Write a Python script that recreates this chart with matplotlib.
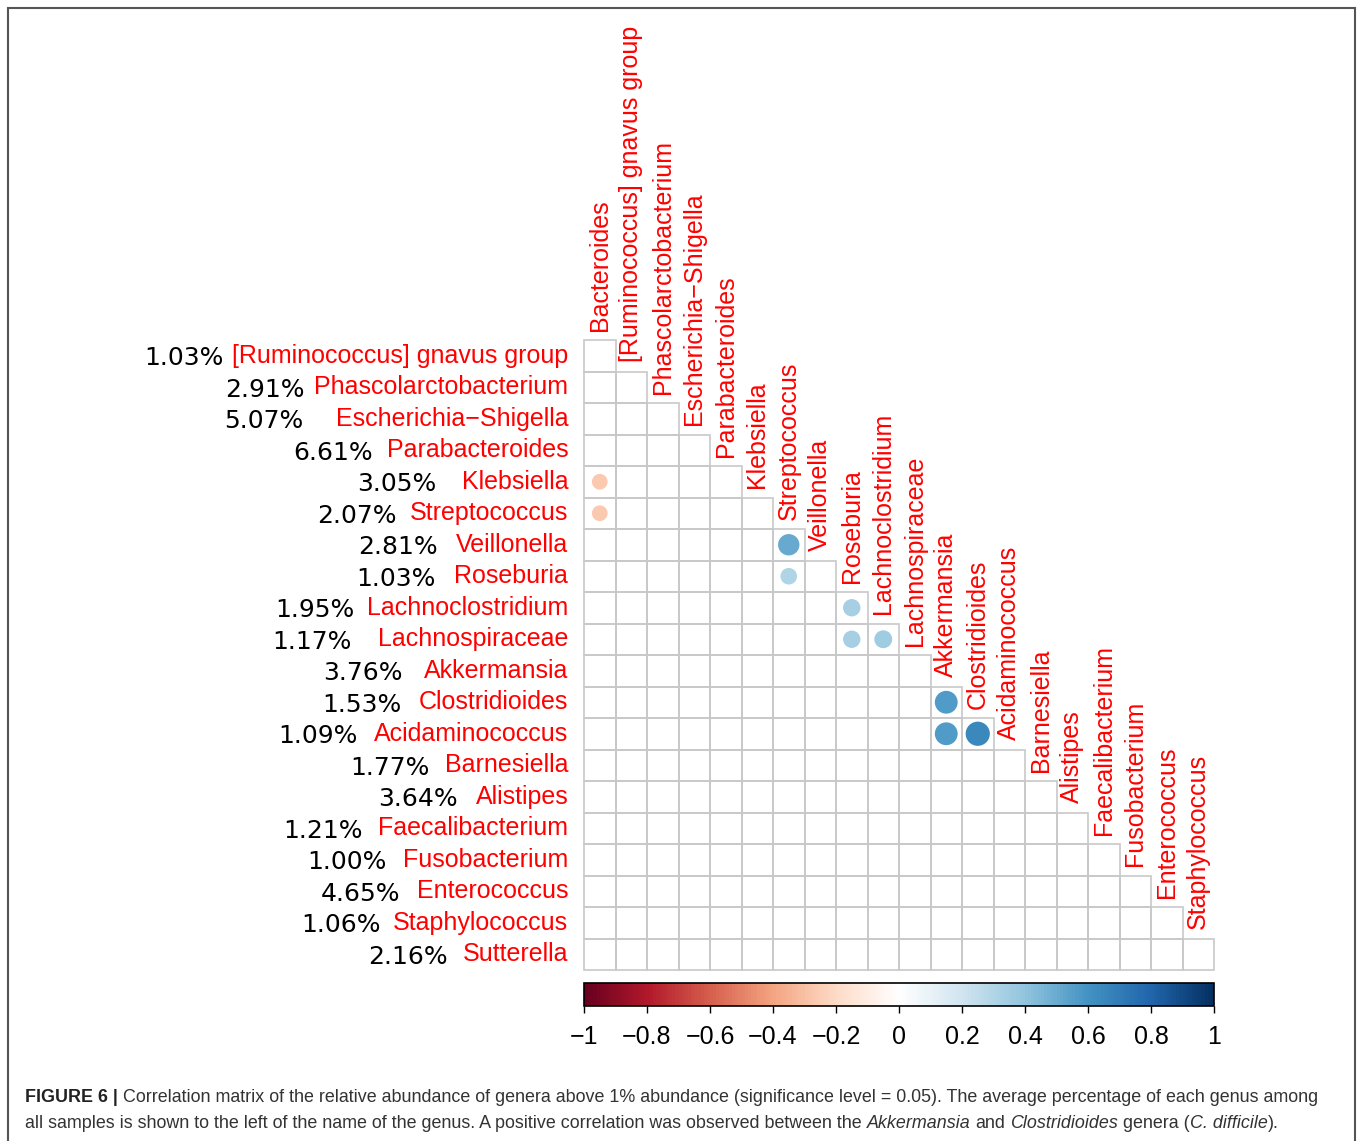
import numpy as np
import matplotlib
matplotlib.use("Agg")
import matplotlib.pyplot as plt
from matplotlib.patches import Rectangle, Circle
from matplotlib.colors import LinearSegmentedColormap, Normalize
from matplotlib.cm import ScalarMappable

plt.rcParams['font.family'] = ['Liberation Sans', 'DejaVu Sans']

# ---------------- data ----------------
col_names = ["Bacteroides", "[Ruminococcus] gnavus group", "Phascolarctobacterium",
             "Escherichia\u2212Shigella", "Parabacteroides", "Klebsiella", "Streptococcus",
             "Veillonella", "Roseburia", "Lachnoclostridium", "Lachnospiraceae",
             "Akkermansia", "Clostridioides", "Acidaminococcus", "Barnesiella",
             "Alistipes", "Faecalibacterium", "Fusobacterium", "Enterococcus",
             "Staphylococcus"]
row_names = ["[Ruminococcus] gnavus group", "Phascolarctobacterium", "Escherichia\u2212Shigella",
             "Parabacteroides", "Klebsiella", "Streptococcus", "Veillonella", "Roseburia",
             "Lachnoclostridium", "Lachnospiraceae", "Akkermansia", "Clostridioides",
             "Acidaminococcus", "Barnesiella", "Alistipes", "Faecalibacterium",
             "Fusobacterium", "Enterococcus", "Staphylococcus", "Sutterella"]
row_pct = ["1.03%", "2.91%", "5.07%", "6.61%", "3.05%", "2.07%", "2.81%", "1.03%",
           "1.95%", "1.17%", "3.76%", "1.53%", "1.09%", "1.77%", "3.64%", "1.21%",
           "1.00%", "4.65%", "1.06%", "2.16%"]

# significant correlations (row genus, column genus, r)
sig_rows = ["Klebsiella", "Streptococcus", "Veillonella", "Roseburia", "Lachnoclostridium",
            "Lachnospiraceae", "Lachnospiraceae", "Clostridioides", "Acidaminococcus",
            "Acidaminococcus"]
sig_cols = ["Bacteroides", "Bacteroides", "Streptococcus", "Streptococcus", "Roseburia",
            "Roseburia", "Lachnoclostridium", "Akkermansia", "Akkermansia", "Clostridioides"]
sig_vals = [-0.27, -0.27, 0.50, 0.30, 0.33, 0.33, 0.35, 0.57, 0.57, 0.64]

cbar_ticks = [-1, -0.8, -0.6, -0.4, -0.2, 0, 0.2, 0.4, 0.6, 0.8, 1]

# layout: gap (px) between percentage and genus name, per row
pct_gap = [8, 10, 32, 14, 25, 13, 18, 19, 13, 26, 21, 17, 16, 15, 18, 16, 16, 17, 12, 15]

# ---------------- figure ----------------
W, H = 1360, 1141
fig = plt.figure(figsize=(W / 100, H / 100), dpi=100)
fig.patch.set_facecolor('white')

col2 = ["#67001F", "#B2182B", "#D6604D", "#F4A582", "#FDDBC7", "#FFFFFF",
        "#D1E5F0", "#92C5DE", "#4393C3", "#2166AC", "#053061"]
cmap = LinearSegmentedColormap.from_list("corr_rdbu", col2, N=200)
norm = Normalize(-1, 1)

n = len(row_names)
gx0, gy0, gsz = 584, 340, 630
ax = fig.add_axes([gx0 / W, 1 - (gy0 + gsz) / H, gsz / W, gsz / H])
ax.set_xlim(0, n)
ax.set_ylim(n, 0)
ax.axis('off')

for r in range(n):
    for c in range(r + 1):
        ax.add_patch(Rectangle((c, r), 1, 1, fill=False, edgecolor='#c8c8c8', lw=1.2,
                               clip_on=False))

for rn, cn, v in zip(sig_rows, sig_cols, sig_vals):
    r = row_names.index(rn)
    c = col_names.index(cn)
    ax.add_patch(Circle((c + 0.5, r + 0.5), 0.48 * np.sqrt(abs(v)),
                        facecolor=cmap(norm(v)), edgecolor='none', clip_on=False))

FS = 18
for i, (name, pct) in enumerate(zip(row_names, row_pct)):
    t = ax.text(-0.5, i + 0.5, name, ha='right', va='center', color='red', fontsize=FS,
                family='Liberation Sans')
    ax.annotate(pct, xy=(0, 0.5), xycoords=t, xytext=(-pct_gap[i], -2.5),
                textcoords='offset pixels', ha='right', va='center', fontsize=FS,
                family='DejaVu Sans', color='black')

for j, name in enumerate(col_names):
    ax.text(j + 0.5, j - 0.3, name, rotation=90, ha='center', va='bottom', color='red',
            fontsize=FS, family='Liberation Sans')

# colour bar
cax = fig.add_axes([gx0 / W, 1 - 1006 / H, gsz / W, 23 / H])
cb = fig.colorbar(ScalarMappable(norm=norm, cmap=cmap), cax=cax, orientation='horizontal')
cb.set_ticks(cbar_ticks)
cb.set_ticklabels([("%g" % v).replace("-", "\u2212") for v in cbar_ticks])
cax.tick_params(length=5, width=1, labelsize=FS, pad=9, direction='out')
cb.outline.set_linewidth(1.2)
cb.outline.set_edgecolor('black')

# frame around figure
fig.add_artist(Rectangle((8 / W, -0.05), 1347 / W, 1 - 8 / H + 0.05, transform=fig.transFigure,
                         fill=False, edgecolor='#555555', lw=1.5))

# caption
fig.canvas.draw()
renderer = fig.canvas.get_renderer()
CFS = 12.9
space_px = 0.278 * CFS * 100 / 72


def rich_line(x_px, y_px, pieces):
    x = x_px
    for s, weight, style, sp in pieces:
        t = fig.text(x / W, 1 - y_px / H, s, fontsize=CFS, fontweight=weight, fontstyle=style,
                     ha='left', va='center', color='#333333' if weight == 'normal' else '#222222',
                     family='Liberation Sans')
        bb = t.get_window_extent(renderer)
        x = bb.x1 + (space_px if sp else 0)


rich_line(25, 1098, [
    ("FIGURE 6 |", 'bold', 'normal', True),
    ("Correlation matrix of the relative abundance of genera above 1% abundance (significance "
     "level = 0.05). The average percentage of each genus among", 'normal', 'normal', False),
])
rich_line(25, 1123, [
    ("all samples is shown to the left of the name of the genus. A positive correlation was "
     "observed between the", 'normal', 'normal', True),
    ("Akkermansia", 'normal', 'italic', True),
    ("and", 'normal', 'normal', True),
    ("Clostridioides", 'normal', 'italic', True),
    ("genera (", 'normal', 'normal', False),
    ("C. difficile", 'normal', 'italic', False),
    (").", 'normal', 'normal', False),
])

fig.savefig("out.png", dpi=100)
